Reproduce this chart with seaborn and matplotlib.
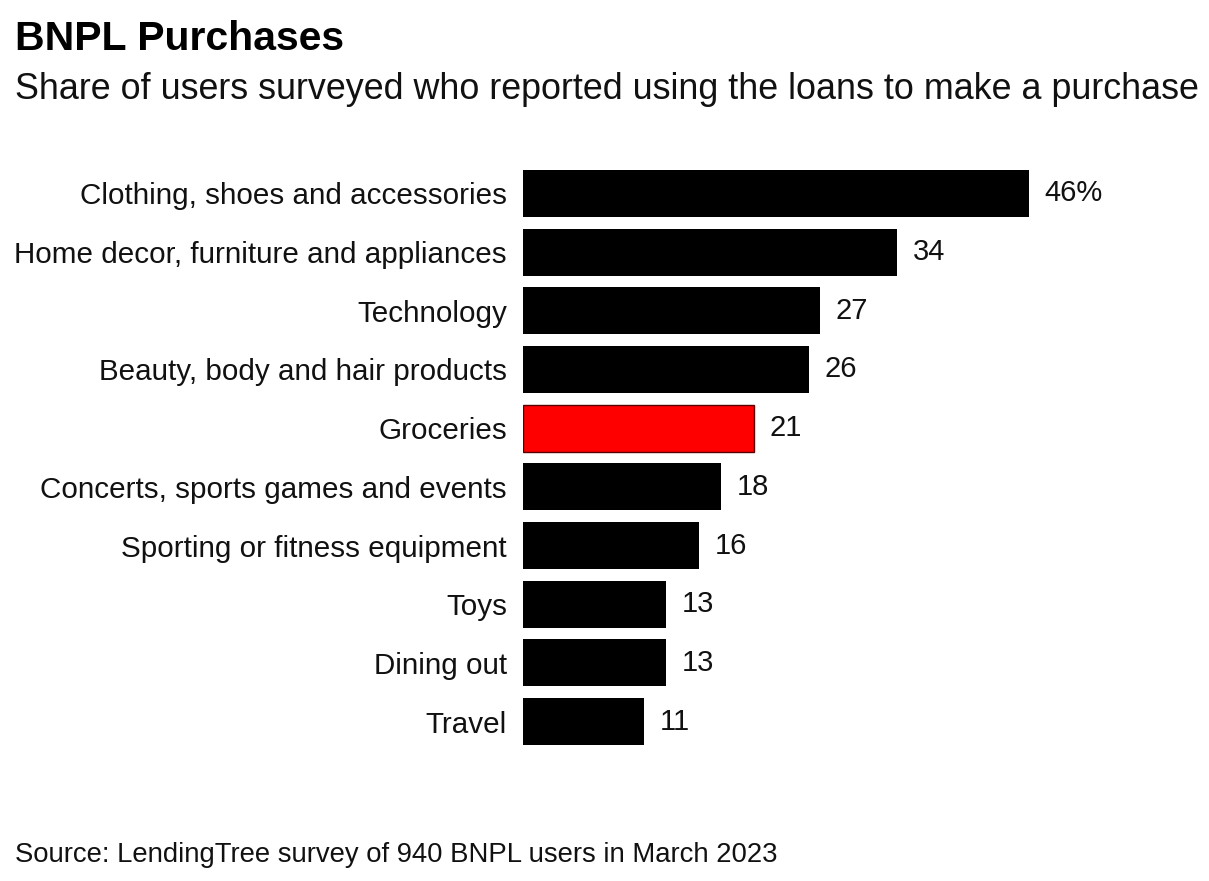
import matplotlib
matplotlib.use("Agg")
import matplotlib.pyplot as plt
import seaborn as sns
import pandas as pd

categories = [
    "Clothing, shoes and accessories",
    "Home decor, furniture and appliances",
    "Technology",
    "Beauty, body and hair products",
    "Groceries",
    "Concerts, sports games and events",
    "Sporting or fitness equipment",
    "Toys",
    "Dining out",
    "Travel",
]
values = [46, 34, 27, 26, 21, 18, 16, 13, 13, 11]
value_labels = ["46%", "34", "27", "26", "21", "18", "16", "13", "13", "11"]
highlight = "Groceries"

title = "BNPL Purchases"
subtitle = "Share of users surveyed who reported using the loans to make a purchase"
source = "Source: LendingTree survey of 940 BNPL users in March 2023"

sns.set_theme(style="white")
plt.rcParams["font.family"] = ["Liberation Sans", "DejaVu Sans"]

df = pd.DataFrame({"category": categories, "value": values})
palette = {c: ("#ff0000" if c == highlight else "#000000") for c in categories}

fig = plt.figure(figsize=(12.09, 8.81), dpi=100)
ax = fig.add_axes([523 / 1209, 1 - 745 / 881, 666 / 1209, 575 / 881])

sns.barplot(data=df, x="value", y="category", hue="category", palette=palette,
            legend=False, width=0.8, ax=ax, saturation=1)

for patch, c in zip(ax.patches, categories):
    if c == highlight:
        patch.set_edgecolor("#5a0000")
        patch.set_linewidth(1.0)
    else:
        patch.set_edgecolor("none")

for cont, lab in zip(ax.containers, value_labels):
    ax.bar_label(cont, labels=[lab], padding=11, fontsize=21, color="#111111")

ax.set_xlim(0, 60.5)
ax.set_ylim(9.4, -0.4)
ax.set_xlabel("")
ax.set_ylabel("")
ax.set_xticks([])
ax.tick_params(axis="y", length=0, pad=11.5, labelsize=21.3, labelcolor="#111111")
for s in ax.spines.values():
    s.set_visible(False)

fig.text(15 / 1209, 1 - 50 / 881, title, fontsize=29.5, fontweight="bold",
         color="#000000", ha="left", va="baseline")
fig.text(15 / 1209, 1 - 99 / 881, subtitle, fontsize=25.8, color="#111111",
         ha="left", va="baseline")
fig.text(15 / 1209, 1 - 862 / 881, source, fontsize=19.8, color="#111111",
         ha="left", va="baseline")

fig.savefig("out.png", dpi=100)
